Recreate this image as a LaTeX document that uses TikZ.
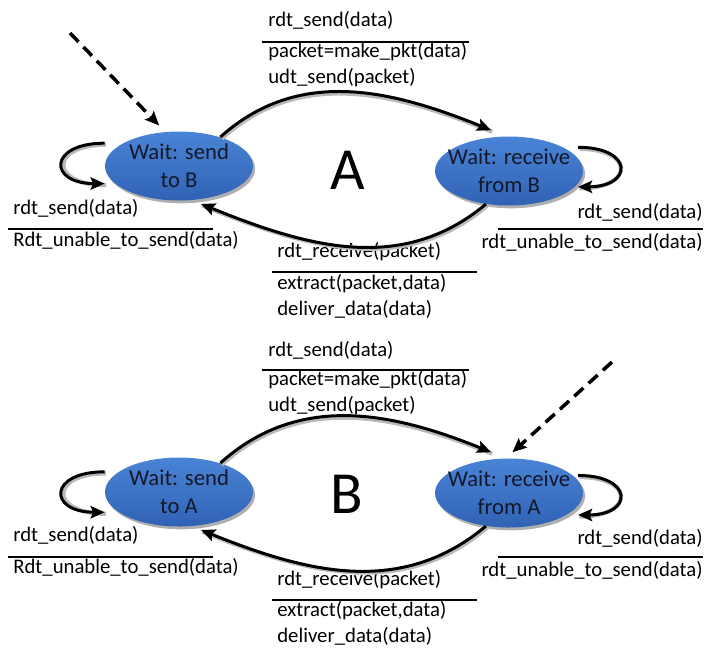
\documentclass[tikz,border=0pt]{standalone}
\usepackage{fontspec}
\setmainfont{Carlito}
\usetikzlibrary{arrows.meta, shapes.geometric, shadows}
\definecolor{statetop}{RGB}{74,132,214}
\definecolor{statebot}{RGB}{48,98,180}
\definecolor{statetext}{RGB}{20,24,40}
\tikzstyle{state}=[ellipse, top color=statetop, bottom color=statebot, draw=none, minimum width=2.96cm, minimum height=1.38cm, inner xsep=-6pt, inner ysep=-1pt, align=center, text=statetext, font=\fontsize{12.9}{16}\selectfont, drop shadow={shadow xshift=1.2pt, shadow yshift=-1.6pt, fill=gray!70, opacity=0.9}]
\tikzstyle{guard}=[inner sep=0pt, font=\fontsize{11.8}{14}\selectfont]
\tikzstyle{bar}=[line width=0.8pt]
\tikzstyle{trans}=[line width=1.7pt, -{Stealth[length=8pt,width=7pt,inset=1.5pt]}, preaction={draw=gray!55, -, line width=2.4pt, transform canvas={xshift=0.7pt,yshift=-0.9pt}}]
\tikzstyle{selfloop}=[trans, out=180, in=180, looseness=3.6]
\tikzstyle{init}=[line width=2pt, dash pattern=on 7pt off 4pt, -{Stealth[length=8pt,width=7pt,inset=1.5pt]}]

\begin{document}
\begin{tikzpicture}[x=0.02cm, y=-0.02cm]
\useasboundingbox (0,0) rectangle (715,654);

\node[state] (sendA) at (179,166) {Wait: send\\to B};
\node[state] (recvA) at (509,171) {Wait: receive\\from B};
\node[font=\fontsize{34}{40}\selectfont] (lblA) at (348,170) {A};
\coordinate (startA) at (70,33);

\node[guard, anchor=west] (sA1) at (268,20) {rdt\_send(data)};
\draw[bar] (262,42) -- (469,42);
\node[guard, anchor=west] (sA2) at (268,52) {packet=make\_pkt(data)};
\node[guard, anchor=west] (sA3) at (268,78) {udt\_send(packet)};

\node[guard, anchor=west] (lA1) at (13,208) {rdt\_send(data)};
\draw[bar] (8,229) -- (213,229);
\node[guard, anchor=west] (lA2) at (13,240) {Rdt\_unable\_to\_send(data)};

\node[guard, anchor=east] (rA1) at (703,212) {rdt\_send(data)};
\draw[bar] (498,229) -- (703,229);
\node[guard, anchor=east] (rA2) at (703,242) {rdt\_unable\_to\_send(data)};

\node[guard, anchor=west] (dA1) at (277,252) {rdt\_receive(packet)};
\draw[bar] (272,272) -- (477,272);
\node[guard, anchor=west] (dA2) at (277,284) {extract(packet,data)};
\node[guard, anchor=west] (dA3) at (277,309) {deliver\_data(data)};

\draw[init] (startA) -- (sendA.112) [shorten >=5pt];
\draw[trans] (sendA.35) to[out=42, in=158] ([yshift=4pt]recvA.118);
\draw[trans] (recvA.235) to[out=220, in=-22] ([xshift=-2pt,yshift=-3pt]sendA.-52);
\draw[selfloop] ([yshift=13pt]sendA.west) to ([yshift=-10pt]sendA.west);
\draw[selfloop, out=0, in=0] ([xshift=-3pt,yshift=13.5pt]recvA.east) to ([xshift=-3pt,yshift=-9pt]recvA.east);

\node[state] (sendB) at (179,492) {Wait: send\\to A};
\node[state] (recvB) at (509,493) {Wait: receive\\from A};
\node[font=\fontsize{34}{40}\selectfont] (lblB) at (347,494) {B};
\coordinate (startB) at (612,362);

\node[guard, anchor=west] (sB1) at (268,350) {rdt\_send(data)};
\draw[bar] (262,370) -- (469,370);
\node[guard, anchor=west] (sB2) at (268,380) {packet=make\_pkt(data)};
\node[guard, anchor=west] (sB3) at (268,406) {udt\_send(packet)};

\node[guard, anchor=west] (lB1) at (13,535) {rdt\_send(data)};
\draw[bar] (8,557) -- (213,557);
\node[guard, anchor=west] (lB2) at (13,567) {Rdt\_unable\_to\_send(data)};

\node[guard, anchor=east] (rB1) at (703,538) {rdt\_send(data)};
\draw[bar] (498,557) -- (703,557);
\node[guard, anchor=east] (rB2) at (703,570) {rdt\_unable\_to\_send(data)};

\node[guard, anchor=west] (dB1) at (277,580) {rdt\_receive(packet)};
\draw[bar] (272,600) -- (477,600);
\node[guard, anchor=west] (dB2) at (277,611) {extract(packet,data)};
\node[guard, anchor=west] (dB3) at (277,636) {deliver\_data(data)};

\draw[init] (startB) -- (recvB.95) [shorten >=5pt];
\draw[trans] (sendB.35) to[out=42, in=158] ([yshift=4pt]recvB.118);
\draw[trans] (recvB.235) to[out=220, in=-22] ([xshift=-2pt,yshift=-3pt]sendB.-52);
\draw[selfloop] ([yshift=11.5pt]sendB.west) to ([yshift=-11.5pt]sendB.west);
\draw[selfloop, out=0, in=0] ([xshift=-3pt,yshift=10pt]recvB.east) to ([xshift=-3pt,yshift=-12.5pt]recvB.east);
\end{tikzpicture}
\end{document}
